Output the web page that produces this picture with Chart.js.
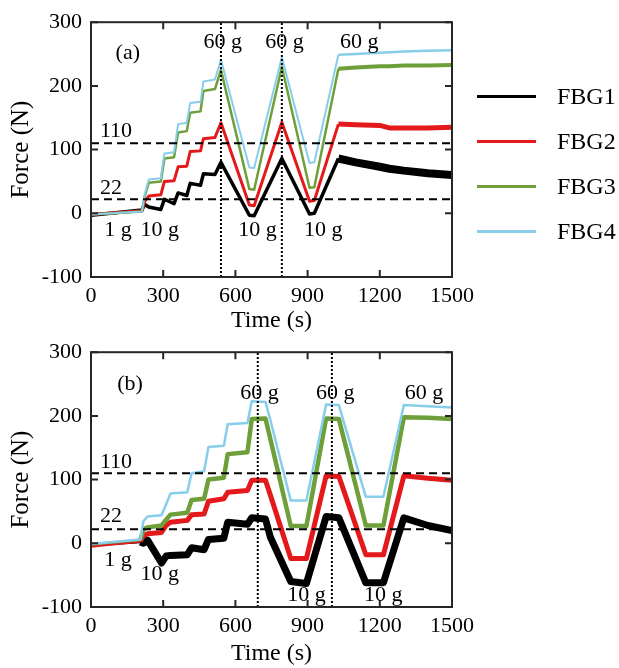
<!DOCTYPE html>
<html><head><meta charset="utf-8">
<script src="https://cdn.jsdelivr.net/npm/chart.js@4.4.1/dist/chart.umd.min.js"></script>
<style>
html,body{margin:0;padding:0;background:#fff;width:619px;height:668px;overflow:hidden;}
canvas{position:absolute;left:0;}
#cA{top:0;} #cB{top:330px;}
.legline{position:absolute;height:3px;width:59px;left:477px;}
.legtext{position:absolute;left:557px;font-family:'Liberation Serif',serif;font-size:24px;line-height:26px;color:#000;}
</style></head>
<body>
<canvas id="cA" width="480" height="335"></canvas>
<canvas id="cB" width="480" height="338"></canvas>
<div id="legend"></div>
<script>
// ---------- data ----------
const seriesNames = ['FBG1', 'FBG2', 'FBG3', 'FBG4'];
const xTickValues = [0, 300, 600, 900, 1200, 1500];
const yTickValues = [-100, 0, 100, 200, 300];
const refLevels = [110, 22];

// panel (a)
const timeA = [0, 212, 222, 240, 290, 305, 345, 362, 398, 412, 455, 467, 515, 540, 658, 678, 793, 908, 928, 1028, 1100, 1200, 1240, 1300, 1400, 1500];
const fbg1A = [-3, 5, 14, 10, 6, 22, 15, 32, 28, 47, 44, 62, 61, 80, -3, -4, 86, -1, 0, 86, 80, 73, 70, 67, 63, 60];
const fbg2A = [-2, 4, 18, 27, 29, 50, 51, 73, 74, 97, 98, 117, 119, 142, 13, 12, 143, 19, 20, 140, 139, 138, 134, 134, 134, 135];
const fbg3A = [-2, 3, 25, 48, 50, 86, 88, 127, 129, 158, 160, 192, 195, 225, 38, 37, 230, 40, 41, 227, 229, 231, 231, 232, 232, 233];
const fbg4A = [-2, 3, 28, 53, 55, 94, 96, 140, 142, 173, 175, 207, 210, 241, 72, 71, 245, 79, 80, 249, 250, 252, 253, 254, 255, 256];
const markTimesA = [540, 793];
const labelsA = [
  ['(a)', 153, 251], ['60 g', 547, 268], ['60 g', 804, 268], ['60 g', 1115, 268],
  ['110', 104, 129], ['22', 83, 40], ['1 g', 112, -26], ['10 g', 286, -26],
  ['10 g', 692, -26], ['10 g', 965, -26]
];

// panel (b)
const timeB = [0, 205, 218, 235, 293, 312, 330, 400, 418, 470, 488, 552, 568, 650, 668, 725, 745, 830, 895, 977, 1030, 1142, 1215, 1300, 1400, 1500];
const fbg1B = [-3, 2, 0, 5, -31, -20, -19, -18, -7, -10, 6, 8, 33, 30, 40, 38, 10, -60, -63, 42, 40, -62, -62, 40, 28, 20];
const fbg2B = [-5, 3, 12, 15, 17, 28, 33, 36, 45, 46, 66, 70, 80, 83, 99, 99, 76, -24, -24, 106, 105, -18, -18, 106, 102, 99];
const fbg3B = [-2, 5, 22, 25, 28, 37, 45, 48, 68, 70, 100, 103, 140, 143, 195, 196, 164, 27, 27, 196, 195, 28, 28, 198, 197, 195];
const fbg4B = [-1, 6, 35, 42, 44, 61, 78, 80, 110, 113, 151, 153, 187, 189, 223, 222, 194, 67, 67, 218, 217, 73, 73, 217, 215, 213];
const markTimesB = [693, 1001];
const labelsB = [
  ['(b)', 162, 249], ['60 g', 700, 235], ['60 g', 1015, 235], ['60 g', 1384, 235],
  ['110', 104, 128], ['22', 83, 43], ['1 g', 112, -26], ['10 g', 286, -49],
  ['10 g', 895, -82], ['10 g', 1214, -82]
];

// ---------- style ----------
const FONT = "'Liberation Serif', 'Times New Roman', serif";
const COLORS = ['#000000', '#e3191c', '#6e9f3a', '#87ceeb'];
const FRAME = '#262626';

const framePlugin = {
  id: 'frame',
  afterDatasetsDraw(chart) {
    const {ctx, chartArea: a, scales: {x, y}} = chart;
    ctx.save();
    ctx.strokeStyle = FRAME;
    ctx.lineWidth = 2;
    const L = 7;
    ctx.beginPath();
    x.ticks.forEach(t => {
      const px = x.getPixelForValue(t.value);
      ctx.moveTo(px, a.bottom); ctx.lineTo(px, a.bottom - L);
      ctx.moveTo(px, a.top); ctx.lineTo(px, a.top + L);
    });
    y.ticks.forEach(t => {
      const py = y.getPixelForValue(t.value);
      ctx.moveTo(a.left, py); ctx.lineTo(a.left + L, py);
      ctx.moveTo(a.right, py); ctx.lineTo(a.right - L, py);
    });
    ctx.stroke();
    ctx.strokeRect(a.left, a.top, a.right - a.left, a.bottom - a.top);
    // annotations
    const labels = chart.options.plugins.frame.labels;
    ctx.fillStyle = '#000';
    ctx.font = "22px " + FONT;
    ctx.textAlign = 'center';
    ctx.textBaseline = 'middle';
    labels.forEach(([txt, t, f]) => {
      ctx.fillText(txt, x.getPixelForValue(t), y.getPixelForValue(f));
    });
    ctx.restore();
  }
};

function makeChart(id, times, series, marks, labels, cfg) {
  const xMin = xTickValues[0], xMax = xTickValues[xTickValues.length - 1];
  const yMin = yTickValues[0], yMax = yTickValues[yTickValues.length - 1];
  const datasets = series.map((vals, i) => ({
    label: seriesNames[i],
    data: times.map((t, k) => ({x: t, y: vals[k]})),
    borderColor: COLORS[i],
    borderWidth: cfg.base[i],
    order: 4 - i + 1,
    segment: {
      borderWidth: c => (c.p0.parsed.x >= cfg.thickFrom ? cfg.thick[i] : cfg.base[i])
    }
  }));
  refLevels.forEach(v => datasets.push({
    data: [{x: xMin, y: v}, {x: xMax, y: v}],
    borderColor: '#000', borderWidth: 2, borderDash: [8, 5], order: 0
  }));
  marks.forEach(t => datasets.push({
    data: [{x: t, y: yMin}, {x: t, y: yMax}],
    borderColor: '#000', borderWidth: 2, borderDash: [2, 2], order: 0
  }));
  return new Chart(document.getElementById(id), {
    type: 'line',
    data: {datasets},
    plugins: [framePlugin],
    options: {
      responsive: false, animation: false, devicePixelRatio: 1,
      layout: {padding: {left: 0, right: 27, top: 15, bottom: 0}},
      elements: {point: {radius: 0}, line: {tension: 0, borderJoinStyle: 'round', fill: false}},
      plugins: {legend: {display: false}, tooltip: {enabled: false}, frame: {labels}},
      scales: {
        x: {
          type: 'linear', min: xMin, max: xMax,
          afterBuildTicks: s => { s.ticks = xTickValues.map(v => ({value: v})); },
          afterFit: s => { s.height = cfg.xHeight; },
          grid: {display: false, drawTicks: false}, border: {display: false},
          ticks: {font: {family: FONT, size: 22}, color: '#000', padding: 6, maxRotation: 0, autoSkip: false, callback: v => String(v)},
          title: {display: true, text: 'Time (s)', font: {family: FONT, size: 24}, color: '#000', padding: {top: 0, bottom: 0}}
        },
        y: {
          type: 'linear', min: yMin, max: yMax,
          afterBuildTicks: s => { s.ticks = yTickValues.map(v => ({value: v})); },
          afterFit: s => { s.width = 91; },
          grid: {display: false, drawTicks: false}, border: {display: false},
          ticks: {font: {family: FONT, size: 22}, color: '#000', padding: 9, autoSkip: false, callback: v => String(v)},
          title: {display: true, text: 'Force (N)', font: {family: FONT, size: 25}, color: '#000', padding: {top: 6, bottom: 0}}
        }
      }
    }
  });
}

makeChart('cA', timeA, [fbg1A, fbg2A, fbg3A, fbg4A], markTimesA, labelsA, {
  xHeight: 58,
  base: [3.5, 3, 2.5, 2],
  thick: [8, 5, 4, 2.5],
  thickFrom: 1028
});
makeChart('cB', timeB, [fbg1B, fbg2B, fbg3B, fbg4B], markTimesB, labelsB, {
  xHeight: 61,
  base: [2.5, 2.5, 2.5, 2.5],
  thick: [7, 5, 4.5, 2.5],
  thickFrom: 205
});

// legend
const leg = document.getElementById('legend');
const rowY = [96, 141, 186, 231];
seriesNames.forEach((n, i) => {
  const l = document.createElement('div');
  l.className = 'legline';
  l.style.top = (rowY[i] - 1.5) + 'px';
  l.style.background = COLORS[i];
  leg.appendChild(l);
  const t = document.createElement('div');
  t.className = 'legtext';
  t.style.top = (rowY[i] - 13) + 'px';
  t.textContent = n;
  leg.appendChild(t);
});
</script>
</body></html>
